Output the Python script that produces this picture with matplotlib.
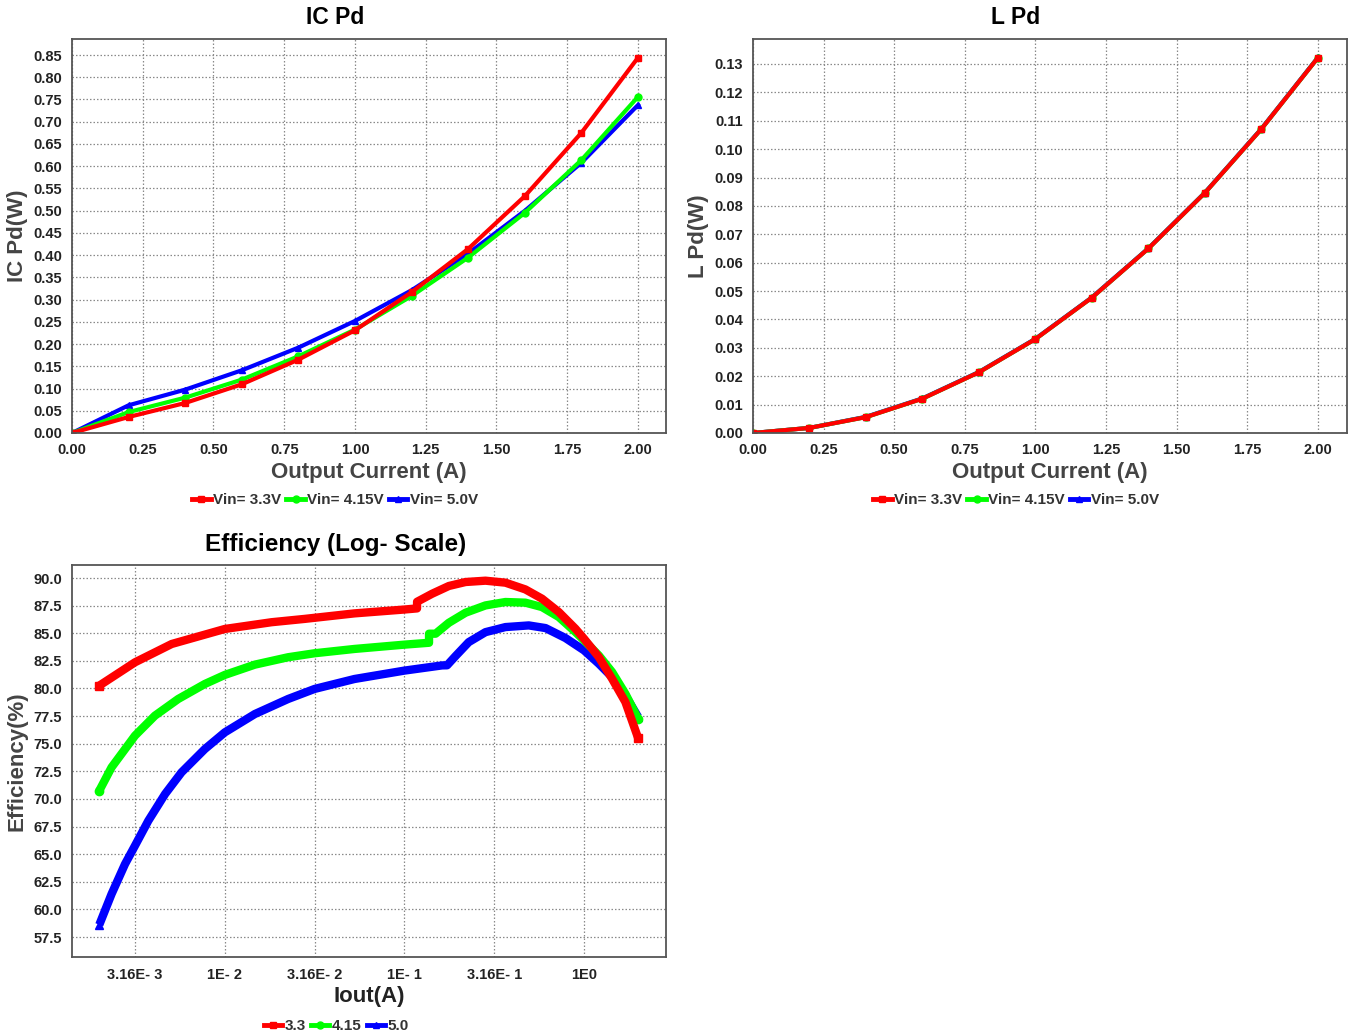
import matplotlib.pyplot as plt
import matplotlib.ticker as mticker
from matplotlib.lines import Line2D
import numpy as np

plt.rcParams['font.family'] = ['Liberation Sans', 'DejaVu Sans']
plt.rcParams['font.weight'] = 'bold'

# ---- data ----
iout = [0.0, 0.2, 0.4, 0.6, 0.8, 1.0, 1.2, 1.4, 1.6, 1.8, 2.0]

ic_pd_33 = [0.0, 0.036, 0.0675, 0.1095, 0.165, 0.231, 0.3166, 0.414, 0.5326, 0.675, 0.844]
ic_pd_415 = [0.0, 0.047, 0.0795, 0.120, 0.1725, 0.2326, 0.308, 0.3946, 0.495, 0.6137, 0.756]
ic_pd_50 = [0.0, 0.0623, 0.0975, 0.141, 0.192, 0.252, 0.321, 0.4036, 0.4996, 0.6077, 0.7375]

l_pd_33 = [0.0, 0.0018, 0.0056, 0.0121, 0.0214, 0.0331, 0.0477, 0.065, 0.0846, 0.1071, 0.1322]
l_pd_415 = [0.0, 0.0018, 0.0056, 0.0121, 0.0214, 0.0331, 0.0477, 0.065, 0.0846, 0.1071, 0.1322]
l_pd_50 = [0.0, 0.0018, 0.0057, 0.0122, 0.0215, 0.0332, 0.0478, 0.0651, 0.0847, 0.1072, 0.1323]

eff_x_33 = [0.002, 0.00316, 0.00506, 0.01, 0.0182, 0.0278, 0.0527, 0.1, 0.1175, 0.1175,
            0.1426, 0.1766, 0.2188, 0.2825, 0.3648, 0.471, 0.583, 0.723, 0.895, 1.0,
            1.208, 1.432, 1.698, 2.0]
eff_y_33 = [80.26, 82.37, 84.03, 85.39, 86.0, 86.3, 86.8, 87.15, 87.25, 87.85,
            88.58, 89.28, 89.64, 89.76, 89.58, 88.97, 88.13, 86.92, 85.41, 84.5,
            82.84, 80.88, 78.77, 75.5]

eff_x_415 = [0.002, 0.00234, 0.00316, 0.00408, 0.0055, 0.00774, 0.01, 0.0147, 0.0225, 0.0316,
             0.0527, 0.1, 0.137, 0.137, 0.149, 0.1766, 0.2188, 0.2825, 0.3648, 0.471,
             0.583, 0.723, 0.895, 1.0, 1.208, 1.432, 1.698, 2.0]
eff_y_415 = [70.75, 72.86, 75.73, 77.54, 79.05, 80.41, 81.23, 82.16, 82.83, 83.19,
             83.58, 83.97, 84.14, 84.96, 84.96, 85.95, 86.86, 87.52, 87.83, 87.77,
             87.37, 86.47, 85.11, 84.35, 82.99, 81.49, 79.52, 77.26]

eff_x_50 = [0.002, 0.00234, 0.00278, 0.00316, 0.00375, 0.00465, 0.00574, 0.00774, 0.01, 0.0147,
            0.0225, 0.0316, 0.0527, 0.1, 0.162, 0.1727, 0.1923, 0.228, 0.2825, 0.3648,
            0.492, 0.61, 0.787, 1.0, 1.208, 1.432, 1.698, 2.0]
eff_y_50 = [58.61, 61.39, 64.1, 65.77, 68.03, 70.45, 72.41, 74.52, 76.03, 77.69,
            79.05, 79.96, 80.86, 81.62, 82.09, 82.1, 82.93, 84.2, 85.1, 85.56,
            85.71, 85.47, 84.57, 83.45, 82.24, 81.03, 79.37, 77.41]

series_labels_pd = ['Vin= 3.3V', 'Vin= 4.15V', 'Vin= 5.0V']
series_labels_eff = ['3.3', '4.15', '5.0']
colors = ['#ff0000', '#00ff00', '#0000ff']
markers = ['s', 'o', '^']

fig = plt.figure(figsize=(13.5, 10.36), dpi=100)

W, H = 1350.0, 1036.0


def box(l, t, r, b):
    return [l / W, 1 - b / H, (r - l) / W, (b - t) / H]


def style(ax):
    ax.grid(True, color='#8a8a8a', linestyle=(0, (1.2, 1.6)), linewidth=0.9)
    ax.set_axisbelow(True)
    for s in ax.spines.values():
        s.set_color('#555555')
        s.set_linewidth(1.3)
    ax.tick_params(length=0, pad=7, labelsize=10.5, colors='#222222')
    for lab in ax.get_xticklabels() + ax.get_yticklabels():
        lab.set_fontweight('bold')


def legend(labels, cx, y, ms):
    handles = [Line2D([0, 0.5, 1], [0, 0, 0], color=c, marker=m, lw=3.5, ms=ms, markevery=[1])
               for c, m in zip(colors, markers)]
    fig.legend(handles, labels, loc='center', bbox_to_anchor=(cx / W, 1 - y / H), ncol=3,
               frameon=False, handlelength=1.2, handletextpad=0.15, columnspacing=0.35,
               prop={'weight': 'bold', 'size': 11}, labelcolor='#333333')


# ---- IC Pd ----
ax1 = fig.add_axes(box(72, 39, 666, 433))
for ys, c, m in zip([ic_pd_33, ic_pd_415, ic_pd_50][::-1], colors[::-1], markers[::-1]):
    ax1.plot(iout, ys, color=c, lw=3, marker=m, ms=5)
ax1.set_xlim(0, 2.099)
ax1.set_ylim(0, 0.886)
ax1.xaxis.set_major_locator(mticker.FixedLocator(np.arange(0, 2.01, 0.25)))
ax1.yaxis.set_major_locator(mticker.FixedLocator(np.arange(0, 0.851, 0.05)))
ax1.xaxis.set_major_formatter(mticker.FormatStrFormatter('%.2f'))
ax1.yaxis.set_major_formatter(mticker.FormatStrFormatter('%.2f'))
style(ax1)
ax1.set_xlabel('Output Current (A)', fontsize=16, fontweight='bold', color='#444444', labelpad=4)
ax1.set_ylabel('IC Pd(W)', fontsize=16, fontweight='bold', color='#444444', labelpad=4)
fig.text(335 / W, 1 - 18 / H, 'IC Pd', ha='center', va='center', fontsize=16.5, fontweight='bold')
legend(series_labels_pd, 335, 500, 5)

# ---- L Pd ----
ax2 = fig.add_axes(box(753, 39, 1347, 433))
for ys, c, m in zip([l_pd_50, l_pd_415, l_pd_33], colors[::-1], markers[::-1]):
    ax2.plot(iout, ys, color=c, lw=3, marker=m, ms=5)
ax2.set_xlim(0, 2.103)
ax2.set_ylim(0, 0.1388)
ax2.xaxis.set_major_locator(mticker.FixedLocator(np.arange(0, 2.01, 0.25)))
ax2.yaxis.set_major_locator(mticker.FixedLocator(np.arange(0, 0.1301, 0.01)))
ax2.xaxis.set_major_formatter(mticker.FormatStrFormatter('%.2f'))
ax2.yaxis.set_major_formatter(mticker.FormatStrFormatter('%.2f'))
style(ax2)
ax2.set_xlabel('Output Current (A)', fontsize=16, fontweight='bold', color='#444444', labelpad=4)
ax2.set_ylabel('L Pd(W)', fontsize=16, fontweight='bold', color='#444444', labelpad=4)
fig.text(1016 / W, 1 - 18 / H, 'L Pd', ha='center', va='center', fontsize=16.5, fontweight='bold')
legend(series_labels_pd, 1016, 500, 5)

# ---- Efficiency ----
ax3 = fig.add_axes(box(72, 565, 666, 957))
eff = [(eff_x_33, eff_y_33), (eff_x_415, eff_y_415), (eff_x_50, eff_y_50)]
for (xs, ys), c, m in list(zip(eff, colors, markers))[::-1]:
    ax3.plot(xs, ys, color=c, lw=6, solid_joinstyle='round', solid_capstyle='butt')
    ax3.plot(xs[0], ys[0], color=c, marker=m, ms=6, ls='none')
    ax3.plot(xs[-1], ys[-1], color=c, marker=m, ms=6, ls='none')
ax3.set_xscale('log')
ax3.set_xlim(10 ** -2.851, 10 ** 0.456)
ax3.set_ylim(55.69, 91.18)
xt = [10 ** -2.5, 1e-2, 10 ** -1.5, 1e-1, 10 ** -0.5, 1.0]
ax3.xaxis.set_major_locator(mticker.FixedLocator(xt))
ax3.xaxis.set_minor_locator(mticker.NullLocator())
ax3.xaxis.set_major_formatter(mticker.FixedFormatter(['3.16E- 3', '1E- 2', '3.16E- 2', '1E- 1', '3.16E- 1', '1E0']))
ax3.yaxis.set_major_locator(mticker.FixedLocator(np.arange(57.5, 90.01, 2.5)))
ax3.yaxis.set_major_formatter(mticker.FormatStrFormatter('%.1f'))
style(ax3)
ax3.tick_params(axis='x', pad=8)
ax3.set_xlabel('Iout(A)', fontsize=16, fontweight='bold', color='#222222', labelpad=3)
ax3.set_ylabel('Efficiency(%)', fontsize=16, fontweight='bold', color='#444444', labelpad=4)
fig.text(336 / W, 1 - 544 / H, 'Efficiency (Log- Scale)', ha='center', va='center', fontsize=17.5, fontweight='bold')
legend(series_labels_eff, 336, 1026, 5)

fig.savefig('out.png', dpi=100)
